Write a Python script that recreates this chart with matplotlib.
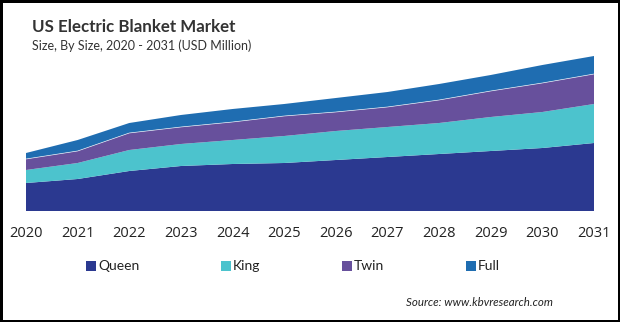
import matplotlib
matplotlib.use("Agg")
import matplotlib.pyplot as plt
from matplotlib.patches import Rectangle
import numpy as np

years = [2020, 2021, 2022, 2023, 2024, 2025, 2026, 2027, 2028, 2029, 2030, 2031]
queen = [28, 32, 40, 45, 47, 48, 51, 54, 57, 60, 63, 68]
king = [13, 16, 21, 22, 24, 27, 29, 30, 31, 34, 36, 39]
twin = [11, 12, 17, 17, 18, 20, 19, 20, 23, 26, 29, 30]
full = [6, 11, 10, 12, 13, 12, 14, 15, 16, 16, 18, 18]

labels = ["Queen", "King", "Twin", "Full"]
colors = ["#2b3990", "#4cc3cd", "#67509c", "#1f6db1"]

W, H = 620, 322
fig = plt.figure(figsize=(W / 100, H / 100), dpi=100)
fig.patch.set_facecolor("white")
fig.patch.set_edgecolor("black")
fig.patch.set_linewidth(2.5)

ax = fig.add_axes([26 / W, (H - 211) / H, (594 - 26) / W, (211 - 40) / H])
ax.stackplot(years, queen, king, twin, full, colors=colors, linewidth=0)
# thin white seam between Twin and Full
top_twin = np.array(queen) + np.array(king) + np.array(twin)
ax.plot(years, top_twin, color="white", linewidth=0.5, alpha=0.8)

ax.set_xlim(2020, 2031)
ax.set_ylim(0, 171)
ax.set_yticks([])
ax.set_xticks(years)
ax.set_xticklabels([str(y) for y in years], fontsize=10.5, fontfamily="Open Sans", color="#222222")
ax.tick_params(axis="x", length=0, pad=11)
for s in ax.spines.values():
    s.set_visible(False)

fig.text(32 / W, 1 - 27 / H, "US Electric Blanket Market", fontsize=12.2, fontweight="bold",
         fontfamily="Lato", color="#333333", va="center", ha="left")
fig.text(32 / W, 1 - 46 / H, "Size, By Size, 2020 - 2031 (USD Million)", fontsize=9,
         fontfamily="Lato", color="#333333", va="center", ha="left")

# legend
leg_x = [91, 226, 347, 471]
leg_y = 266
for x, lab, c in zip(leg_x, labels, colors):
    fig.add_artist(Rectangle(((x - 5) / W, 1 - (leg_y + 5) / H), 10 / W, 10 / H,
                             transform=fig.transFigure, facecolor=c, edgecolor="none"))
    fig.text((x + 7) / W, 1 - leg_y / H, lab, fontsize=10, fontfamily="Lato",
             color="#222222", va="center", ha="left")

fig.text(553 / W, 1 - 303 / H, "Source: www.kbvresearch.com", fontsize=8.3, style="italic",
         fontfamily="Lato", color="#222222", va="center", ha="right")

fig.savefig("out.png", dpi=100)
